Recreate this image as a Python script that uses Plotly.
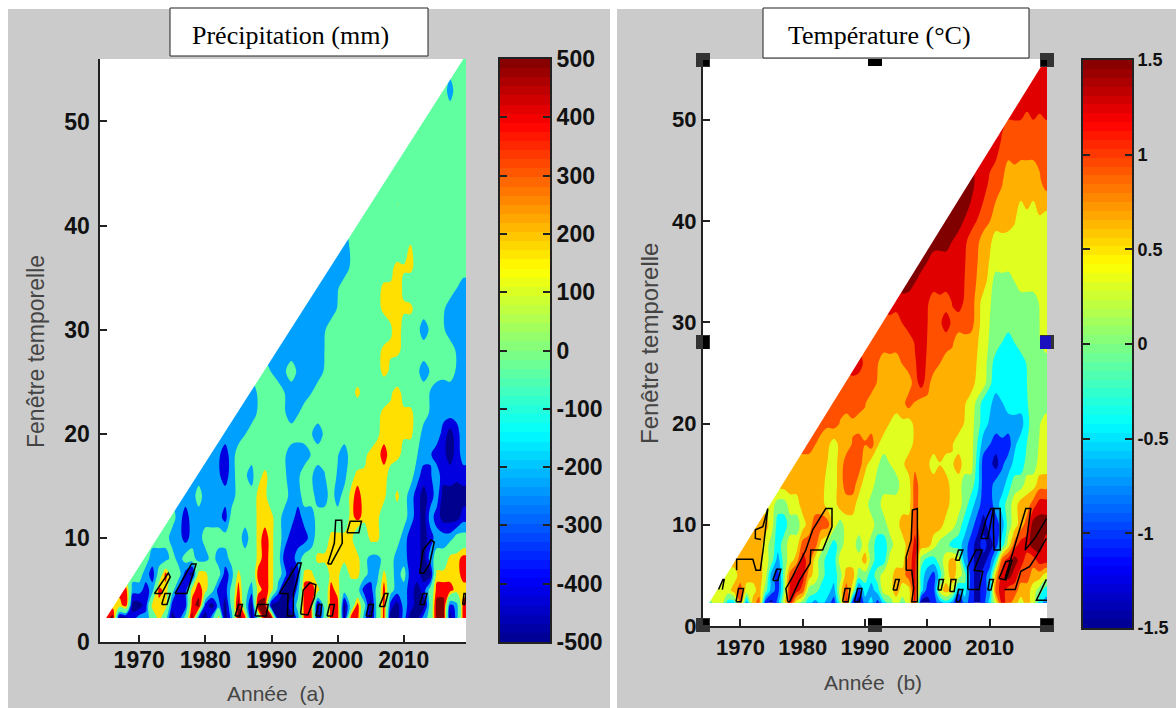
import numpy as np
import plotly.graph_objects as go

W, H = 1176, 708
YEARS = list(range(1965, 2020))
GRID_END = 2019.4

# ---- Precipitation (mm): windows and value rows. Rows end at 2019.
P_WINDOWS = [2.3, 3.5, 5, 6.5, 8, 10, 12, 14, 16, 18, 20, 22, 24, 26, 28, 30, 32, 34, 36, 38, 42, 46, 50, 53, 56]
P_FINE_ROWS = 8  # rows per year; later rows hold one value per two years (odd years)
P_02 = [310,440,-440,-440,-310, -190,-190,-60,190,-60, -440,-310,-60,440,-310, -440,-190,190,-440,-190,
        440,310,-440,-60,440, 440,-440,-440,-440,-190, 310,310,-440,-60,310, 310,-440,310,310,-190,
        -440,-60,310,-440,-440, -190,-440,-440,-190,-60, 440,440,-440,-190,310]
P_03 = [190,310,-440, -440,-310,190,190,190, -310,-310,-310,310,440, -310,-440,-190,-440,-60,
        440,-60,-440,440,440, -440,-440,-440,-310,-60, 310,310,-440,-60,310, 310,-440,-60,310,-60,
        -440,-60,310,-310,-440, -190,-310,-440,-440,-60, 440,440,-310,-190,310]
P_05 = [310,-190, -190,-310,-190,310,190, -60,-310,-310,190,310, 190,-60,-310,-310,-60,
        310,-60,-190,190,310, 190,-190,-440,-440,-190, 310,310,190,-60,310, 190,-60,-60,-60,-310,
        -310,-60,310,-60,-190, -190,-310,-440,-310,-60, 310,310,310,190,190]
P_06 = [-60,-190,-310,-60,310, -60,-60,-310,-440,190, 190,-60,-60,-310,-190,
        190,-60,-60,310,310, 190,-60,-190,-440,-310, 190,190,-60,-60,190, 190,-60,190,190,-60,
        -190,-190,190,-60,-190, -60,-310,-310,-440,-440, 190,190,190,190,310]
P_08 = [-60,-190,-190,-190, -60,-190,-60,-60,-190, -190,-60,-190,-190,-60,
        -60,-60,-60,190,310, 190,-60,-310,-310,-190, -60,-60,190,190,190, 190,190,190,190,-60,
        -190,-190,-60,-60,-190, -190,-310,-310,-440,-190, -60,-60,190,190,310]
P_10 = [-60,-60, -190,-190,-310,-190,-190, -60,-60,-60,-60,-60,
        -60,-190,-60,190,310, 190,-60,-190,-310,-310, -310,-190,-60,-60,190, 190,190,190,-60,-60,
        190,190,-60,-60,-60, -190,-310,-310,-440,-310, -190,-190,-190,-60,-60]
P_12 = [-60,-190,-310,-190,-190, -190,-190,-190,-310,-60,
        -60,-60,-60,190,190, 190,-60,-190,-190,-310, -190,-190,-60,-60,-60, -60,-60,190,310,190,
        190,190,-60,-60,-60, -60,-190,-310,-440,-190, -310,-440,-440,-440,-310]
P_14 = [-190,-190,-60, -190,-190,-190,-190,-190,
        -60,-60,-60,190,190, -60,-60,-60,-190,-190, -60,-60,-190,-190,-60, -190,-60,190,310,190,
        190,190,190,-60,190, -60,-190,-310,-440,-310, -190,-440,-440,-440,-440]
P_16 = [-190,-310,-60,-190,190,-60,-190,-60,-190,-60,-190,190,190,190,-60,-60,-310,-190,-310,-310]
P_18 = [-190,-310,-60,-60,-60,-60,-190,-190,-60,-60,-190,-60,190,310,190,-60,-190,-310,-440,-190]
P_20 = [-190,-190,-60,-60,-60,-60,-60,-190,-60,-60,-60,-60,190,190,190,-190,-190,-440,-190]
P_22 = [-190,-190,-60,-60,-190,-60,-60,-60,-60,-60,-60,190,190,190,-60,-190,-190,-190]
P_24 = [-190,-60,-60,-190,-190,-60,-60,-60,190,-60,-60,190,-60,-60,-190,-190,-190]
P_26 = [-60,-190,-60,-190,-190,-60,-60,-60,-60,190,-60,-60,-190,-60,-60,-190]
P_28 = [-190,-190,-190,-190,-60,-60,-60,-60,190,190,-60,-60,-60,-60,-190]
P_30 = [-190,-190,-190,-60,-60,-60,-60,-60,190,-60,-190,-60,-190,-190]
P_32 = [-190,-190,-190,-60,-60,-60,190,190,190,-60,-60,-190,-190]
P_34 = [-190,-190,-60,-60,-60,190,190,-60,-60,-60,-60,-190]
P_36 = [-190,-190,-60,-60,-60,190,190,-60,-60,-60,-60]
P_38 = [-190,-60,-60,-60,-60,140,-60,-60,-60,-60]
P_42 = [-60,-60,130,-60,-60,-60,-60,-60]
P_46 = [-60,-60,-60,-60,-60,-60]
P_50 = [-60,-60,-60,-60]
P_53 = [-60,-160,-60]
P_56 = [-60]
P_ROWS = [P_02,P_03,P_05,P_06,P_08,P_10,P_12,P_14,P_16,P_18,P_20,P_22,P_24,P_26,P_28,P_30,P_32,P_34,P_36,P_38,P_42,P_46,P_50,P_53,P_56]

# significance outlines (year, window) of panel (a)
P_OUTLINE_X = [[1972.3,1974.4,1974.7,1973.4,1972.3],[1973.4,1973.9,1974.7,1974.2,1973.4],[1975.4,1977.9,1978.6,1977.2,1975.4],
    [1984.5,1985,1985.6,1985.2,1984.5],[1987.5,1987.9,1989.5,1989.2,1987.5],[1991.2,1994,1994.5,1993.3,1993.3,1992.4,1992.5,1991.2],
    [1994.4,1994.8,1995.8,1996.7,1996.5,1995.5,1994.4],[1996.7,1997.1,1997.6,1997.4,1996.7],[1998.4,1998.8,1999.5,1999.2,1998.4],
    [2004.3,2004.7,2005.4,2005.1,2004.3],[2006.3,2007.1,2007.6,2007.1,2006.3],[2012.4,2012.9,2013.5,2013.1,2012.4],
    [2012.4,2012.9,2014.1,2014.6,2013.9,2013,2012.4],[1998.5,1999.5,1999.7,2000.6,2000.7,1999,1998.5],[2001.4,2001.9,2003.6,2003.2,2001.4],
    [2018.9,2019.1,2019.4,2019.2,2018.9]]
P_OUTLINE_Y = [[4.65,6.63,6.25,4.65,4.65],[3.6,4.65,4.65,3.6,3.6],[4.65,7.5,7.5,4.65,4.65],
    [2.5,3.6,3.6,2.5,2.5],[2.5,3.6,3.6,2.5,2.5],[4.65,7.6,7.6,4.65,2.5,2.5,4.65,4.65],
    [2.7,5,5.7,5.5,4.3,2.6,2.7],[2.5,3.6,3.6,2.5,2.5],[2.5,3.6,3.6,2.5,2.5],
    [2.5,3.6,3.6,2.5,2.5],[3.4,4.65,4.65,3.4,3.4],[3.6,4.65,4.65,3.6,3.6],
    [6.6,8.8,9.8,9.6,7.5,6.6,6.6],[7.5,9.5,11.7,11.7,9.5,7.5,7.5],[10.5,11.6,11.6,10.5,10.5],
    [3.6,4.65,4.65,3.6,3.6]]

# ---- Temperature (deg C): panel (b)
T_WINDOWS = [2.3, 3.5, 5, 6.5, 8, 10, 12, 14, 16, 18, 20, 22, 24, 26, 28, 30, 32, 34, 36, 38, 40, 44, 48, 52, 56]
T_FINE_ROWS = 8
T_02 = [-.15,.15,.15,-.45,-.45, .75,-.75,.45,.75,-1.05, -1.35,-.75,.15,1.05,.15, -.15,-.45,-.75,-.45,-.75,
        -1.05,-.15,1.05,-1.05,-1.35, -.75,-.45,-1.05,-.45,-.15, .15,-.15,.15,1.05,-1.35, -1.35,-1.05,-.75,-.45,-.75,
        -1.35,-.75,-1.05,-1.35,-1.05, -.45,.15,1.05,.75,.45, .15,.45,.15,-.45,-.75]
T_03 = [.15,.15,.45, .75,.15,.15,.45,-.15, -.75,-1.05,-.15,1.05,1.05, .75,-.15,-.15,-.45,-.45,
        -.75,.15,.75,.15,-1.05, -.45,-.75,-.45,.15,.15, .45,.15,.15,1.05,-.45, -1.05,-1.05,.15,.45,.15,
        -.75,-.45,-1.05,-1.35,-1.05, -.75,.75,1.05,.75,.75, .45,.45,.15,-.15,-.45]
T_05 = [.15,.15, .45,.45,.45,.45,.15, -.75,-1.05,-.15,.75,1.05, 1.05,.45,.15,-.15,-.45,
        -.45,-.15,.45,.45,-.15, -.15,-.45,-.15,.15,.15, .45,.45,.75,1.05,-.45, -.75,-1.05,-.45,.15,.45,
        .15,-.15,-1.05,-1.35,-1.05, -.75,.45,1.05,1.35,1.05, .75,.75,.45,.45,.15]
T_06 = [.45,.45,.45,.45,.15, -.15,-.75,-.15,.15,.45, 1.05,.75,.15,-.15,-.45,
        -.45,.15,.15,.15,.15, .45,-.15,-.45,-.45,.15, .15,.15,.75,1.05,-.15, -.45,-.45,-.15,.15,.45,
        .15,-.75,-1.05,-1.35,-1.35, -1.05,-.45,.75,1.05,1.35, 1.05,.75,.75,1.05,1.05]
T_08 = [.45,.45,.15, -.15,-.45,-.15,.15,.15, .75,.75,.75,.15,-.15,
        -.45,-.15,.15,.15,-.15, .15,-.15,-.45,-.45,-.15, .15,.15,.45,1.05,.45, .45,.15,-.15,-.15,-.45,
        -.45,-.75,-1.05,-1.35,-1.05, -1.35,-1.05,-.45,.15,.75, 1.05,1.05,1.35,1.35,1.05]
T_10 = [.45,.45, .15,-.45,-.45,-.15,-.15, .15,.45,.75,.75,.75,
        .15,-.15,.15,.15,.15, .15,.15,-.15,-.15,.15, .15,.45,.45,.75,.45, .45,.45,.45,.15,.15,
        -.15,-.45,-.75,-1.05,-1.35, -1.05,-1.05,-.75,-.15,.15, .45,.75,1.35,1.35,1.35]
T_12 = [.15,-.15,-.15,.15,.15, .45,.45,.45,.45,.15,
        .15,.45,.45,.45,.15, .15,-.15,-.15,.15,.15, .15,.15,.15,.75,.45, .45,.45,.45,.45,.15,
        .15,-.15,-.45,-.75,-1.05, -1.05,-.75,-.45,-.15,.15, .45,.45,.75,1.05,1.05]
T_14 = [.45,.45,.45, .45,.45,.45,.15,.15,
        .45,.75,.75,.45,.15, .15,-.15,-.15,-.15,-.15, .15,.15,.75,.45,.45, .45,.45,.45,.15,.15,
        -.15,-.15,-.45,-1.05,-1.05, -.75,-.75,-.45,-.15,-.15, .15,.15,.45,.45]
T_16 = [.45,.45,.15,.75,.75,.15,-.15,.15,.45,.45,.15,.15,.45,.15,-1.05,-1.35,-.75,-.45,-.15,.15]
T_18 = [.75,.45,.15,.45,.75,.75,.15,.15,.15,.45,.45,.45,.15,.15,-.75,-1.05,-1.05,-.45,-.15,.15]
T_20 = [.75,.75,.45,.45,.45,.45,.15,.15,.45,.45,.45,.45,.15,-.45,-.75,-.75,-.75,-.15,.15]
T_22 = [.75,.75,.75,.45,.45,.45,.75,.45,.45,.45,.45,.15,-.45,-.75,-.45,-.45,-.15,-.15]
T_24 = [.75,.75,.75,.45,.45,.45,1.05,.45,.45,.45,.45,.15,-.45,-.45,-.45,-.15,-.15]
T_26 = [1.05,.75,.45,.45,.75,1.05,.75,.45,.45,.45,.15,-.45,-.45,-.45,-.15,-.15]
T_28 = [.75,.75,.75,.75,1.05,.75,.75,.45,.45,.15,-.15,-.45,-.15,-.15,.15]
T_30 = [.75,.75,1.05,1.05,.75,1.05,.75,.75,.15,-.15,-.15,-.15,-.15,.15]
T_32 = [1.05,1.05,1.05,.75,.75,1.05,.75,.15,-.15,-.15,-.15,-.15,.15]
T_34 = [1.35,1.05,1.05,1.05,1.05,.75,.45,-.15,-.15,.15,.15,.15]
T_36 = [1.35,1.05,1.05,1.05,.75,.45,.15,.15,.15,.15,.15]
T_38 = [1.35,1.35,1.05,.75,.45,.15,.15,.15,.15,.15]
T_40 = [1.35,1.35,1.05,.75,.45,.45,.15,.15,.15]
T_44 = [1.35,1.05,.75,.45,.45,.45,.75]
T_48 = [1.05,.75,.75,.75,.75]
T_52 = [1.05,1.05,1.05]
T_56 = [1.05]
T_ROWS = [T_02,T_03,T_05,T_06,T_08,T_10,T_12,T_14,T_16,T_18,T_20,T_22,T_24,T_26,T_28,T_30,T_32,T_34,T_36,T_38,T_40,T_44,T_48,T_52,T_56]

T_OUTLINE_X = [[1966.5,1967.2,1967.4,1967.1],[1969.3,1969.7,1970.5,1970.1,1969.3],
    [1969.4,1969.4,1972,1972.5,1973.2,1973.7,1974.4,1973.6,1972.4,1972.4,1973.3],[1975.2,1975.8,1976.5,1976,1975.2],
    [1977.6,1977.3,1978.4,1980.5,1981.6,1983.7,1984.7,1984.7,1983.2,1981.3,1981.2,1979.5,1977.9,1977.6],
    [1986.4,1986.8,1987.6,1987.3,1986.4],[1988.3,1988.8,1989.5,1989.1,1988.3],[1994.5,1994.9,1995.5,1995.1,1994.5],
    [1996.6,1996.6,1997.4,1997.6,1998.4,1998.4,1997.5,1997.8,1997.5,1996.6],[2001.7,2001.9,2002.6,2002.2,2001.7],
    [2003.6,2003.8,2004.6,2004.3,2003.6],[2004.6,2005,2005.7,2005.2,2004.6],[2004.5,2005,2005.7,2005.1,2004.5],
    [2006.5,2006.5,2007.8,2008.8,2007.5,2008.9,2008.3,2006.5],[2009.7,2010,2010.6,2010.2,2009.7],
    [2008.6,2009.4,2010.2,2010.6,2009.7,2008.6],[2010.7,2010.6,2010.7,2011.7,2011.7,2010.7],[2011.5,2012.6,2013.6,2012.6,2011.5],
    [2012.4,2014.1,2015,2016.4,2017.4,2019.1],[2012.4,2014,2014.8,2015.8,2016.6,2015.7,2017.4,2019.1],
    [2019.1,2017.5,2019.2]]
T_OUTLINE_Y = [[3.6,4.6,4.6,3.6],[2.4,3.7,3.7,2.4,2.4],
    [5.5,6.6,6.6,5.5,5.5,7.8,11.6,9.8,9.5,8.65,8.55],[4.5,5.6,5.6,4.5,4.5],
    [2.4,3.7,4.9,7.5,9.5,11.6,11.6,9.8,7.5,7.5,6.2,4.5,2.4,2.4],
    [2.4,3.7,3.7,2.4,2.4],[2.4,3.7,3.7,2.4,2.4],[3.55,4.6,4.6,3.55,3.55],
    [5.5,6.8,8.5,11.45,11.6,2.4,2.4,3.7,5.5,5.5],[3.55,4.6,4.6,3.55,3.55],
    [3.4,4.6,4.6,3.4,3.4],[2.4,3.6,3.6,2.4,2.4],[6.5,7.5,7.5,6.5,6.5],
    [3.6,5.85,7.5,7.5,5.5,5.4,3.6,3.6],[3.55,4.6,4.6,3.55,3.55],
    [8.65,10.5,11.6,11.6,8.65,8.65],[7.5,9.8,11.6,11.6,7.5,7.5],[4.7,6.35,6.5,4.55,4.7],
    [3.6,3.6,5.4,5.85,6.8,8.65],[4.55,7.8,9.5,11.6,11.6,7.5,8.8,10.6],
    [4.6,2.55,2.55]]

# ---- Scales
JET = [[0,"#00008f"],[0.11,"#0000ff"],[0.36,"#00ffff"],[0.5,"#80ff80"],[0.64,"#ffff00"],[0.89,"#ff0000"],[1,"#800000"]]
P_TICKS = [-500,-400,-300,-200,-100,0,100,200,300,400,500]
P_TICK_TEXT = ["-500","-400","-300","-200","-100","0","100","200","300","400","500"]
T_TICKS = [-1.5,-1,-0.5,0,0.5,1,1.5]
T_TICK_TEXT = ["-1.5","-1","-0.5","0","0.5","1","1.5"]
P_BANDS = ["#00008f","#0000e0","#00a0ff","#60ffa0","#60ffa0","#ffe000","#ff0000","#800000"]
T_BANDS = ["#0000a0","#0020ff","#00a0ff","#00ffff","#80ff80","#e0ff20","#ffb000","#ff5000","#e00000","#800000"]
X_TICKS = [1970,1980,1990,2000,2010]
Y_TICKS = [0,10,20,30,40,50]


def step_scale(colors):
    n = len(colors)
    out = []
    for i, c in enumerate(colors):
        out += [[i / n, c], [(i + 1) / n, c]]
    return out


def build_grid(rows, fine):
    grid = []
    for i, r in enumerate(rows):
        if i < fine:
            vals = list(r)
        else:
            vals = []
            for v in r:
                vals += [None, v]
            vals = vals[1:]
        vals = vals[-len(YEARS):]
        vals = [vals[0]] * (len(YEARS) - len(vals)) + vals
        grid.append(vals + [vals[-1]])
    return grid


def fx(px):
    return px / W


def fy(py):
    return 1 - py / H


fig = go.Figure()
AX = "Liberation Sans"


def panel(idx, rows, fine, windows, vmin, vmax, bands, ox, oy, dom, cbdom, ticks, text, xr, fs, cbfs, xstand, ystand):
    xa, ya = f"x{idx*2-1}", f"y{idx*2-1}"
    xb, yb = f"x{idx*2}", f"y{idx*2}"
    grid = build_grid(rows, fine)
    size = (vmax - vmin) / len(bands)
    fig.add_trace(go.Contour(x=YEARS + [GRID_END], y=windows, z=grid, zmin=vmin, zmax=vmax,
                             colorscale=step_scale(bands), showscale=False, connectgaps=True,
                             contours=dict(coloring="fill", start=vmin + size, end=vmax - size, size=size, showlines=False),
                             line=dict(width=0, smoothing=1.0), hoverinfo="skip", xaxis=xa, yaxis=ya))
    fig.add_trace(go.Scatter(x=[YEARS[0] - 1, YEARS[0] - 1, YEARS[-1], YEARS[0], YEARS[0] - 1],
                             y=[windows[0], windows[-1], windows[-1], windows[0], windows[0]],
                             mode="lines", fill="toself", fillcolor="white", line=dict(width=0, color="white"),
                             hoverinfo="skip", showlegend=False, xaxis=xa, yaxis=ya))
    for xs, ys in zip(ox, oy):
        fig.add_trace(go.Scatter(x=xs, y=ys, mode="lines", line=dict(color="black", width=1.5),
                                 hoverinfo="skip", showlegend=False, xaxis=xa, yaxis=ya))
    levels = np.linspace(vmin, vmax, 65)
    mids = (levels[:-1] + levels[1:]) / 2
    fig.add_trace(go.Heatmap(z=[[float(m)] for m in mids], y=mids.tolist(), x=[0], zmin=vmin, zmax=vmax,
                             colorscale=JET, showscale=False, hoverinfo="skip", xaxis=xb, yaxis=yb))
    tick = dict(family=AX, size=fs, color="#111111", weight=700)
    common = dict(showgrid=False, zeroline=False, showline=True, linecolor="#222222", linewidth=2,
                  ticks="inside", ticklen=7, tickcolor="#222222", tickwidth=1.5, tickfont=tick)
    cb = dict(common, tickfont=dict(tick, size=cbfs))
    fig.update_layout({
        f"xaxis{idx*2-1}": dict(domain=[fx(dom[0]), fx(dom[1])], anchor=ya, range=xr, tickvals=X_TICKS,
                                ticktext=[str(v) for v in X_TICKS], ticklabelstandoff=xstand, **common),
        f"yaxis{idx*2-1}": dict(domain=[fy(dom[3]), fy(dom[2])], anchor=xa, range=[0, 56], tickvals=Y_TICKS,
                                ticktext=[str(v) for v in Y_TICKS], ticklabelstandoff=ystand, **common),
        f"xaxis{idx*2}": dict(domain=[fx(cbdom[0]), fx(cbdom[1])], anchor=yb, range=[-0.5, 0.5], showticklabels=False,
                              ticks="", showgrid=False, zeroline=False, showline=True, mirror=True,
                              linecolor="#222222", linewidth=2),
        f"yaxis{idx*2}": dict(domain=[fy(cbdom[3]), fy(cbdom[2])], anchor=xb, range=[vmin, vmax], side="right",
                              tickvals=ticks, ticktext=text, mirror="allticks", ticklabelstandoff=0, **cb),
    })


P_DOM = (99.5, 466, 59, 642)
T_DOM = (703, 1047, 59, 626)
panel(1, P_ROWS, P_FINE_ROWS, P_WINDOWS, -500, 500, P_BANDS, P_OUTLINE_X, P_OUTLINE_Y,
      P_DOM, (500, 550, 59, 642), P_TICKS, P_TICK_TEXT, [1964, 2019.4], 23, 23, -4, 3)
panel(2, T_ROWS, T_FINE_ROWS, T_WINDOWS, -1.5, 1.5, T_BANDS, T_OUTLINE_X, T_OUTLINE_Y,
      T_DOM, (1083, 1132, 60, 628), T_TICKS, T_TICK_TEXT, [1964, 2019.2], 22, 18, 1, 0)


def rect(x0, y0, x1, y1, fill, line=None, layer="above"):
    return dict(type="rect", xref="paper", yref="paper", x0=fx(x0), x1=fx(x1), y0=fy(y1), y1=fy(y0),
                fillcolor=fill, line=dict(color=line or fill, width=1 if line else 0), layer=layer)


shapes = [rect(8, 9, 610, 708, "#cbcbcb", layer="below"), rect(617, 9, 1176, 708, "#cbcbcb", layer="below"),
          rect(P_DOM[0], P_DOM[2], P_DOM[1], P_DOM[3], "white", layer="below"),
          rect(T_DOM[0], T_DOM[2], T_DOM[1], T_DOM[3], "white", layer="below"),
          rect(170, 8, 428, 56, "white", "#222222"), rect(763, 8, 1029, 58, "white", "#222222")]
# selection handles around panel (b)
for cx, cy in [(703, 60), (1047, 60), (703, 342), (1047, 342), (703, 625), (875, 625), (1047, 625)]:
    shapes.append(rect(cx - 7, cy - 7, cx + 7, cy + 7, "#333333"))
for x0, y0, x1, y1, c in [(703, 60, 709, 66, "black"), (1041, 60, 1047, 66, "black"), (703, 336, 709, 349, "black"),
                          (1040, 336, 1051, 349, "#1a10c0"), (703, 619, 709, 625, "black"), (868, 619, 882, 625, "black"),
                          (1041, 619, 1053, 625, "black"), (868, 59, 882, 66, "black")]:
    shapes.append(rect(x0, y0, x1, y1, c))


def note(text, x, y, size, color, family, angle=0):
    return dict(text=text, x=fx(x), y=fy(y), xref="paper", yref="paper", showarrow=False, xanchor="center",
                yanchor="middle", textangle=angle, font=dict(family=family, size=size, color=color))


annotations = [
    note("Précipitation (mm)", 290, 35, 26, "black", "Liberation Serif"),
    note("Température (°C)", 879, 35, 26, "black", "Liberation Serif"),
    note("Année  (a)", 276, 693, 21, "#444444", AX),
    note("Année  (b)", 873, 682, 21, "#444444", AX),
    note("Fenêtre temporelle", 36, 352, 23, "#444444", AX, -90),
    note("Fenêtre temporelle", 649, 344, 24, "#444444", AX, -90),
]

fig.update_layout(width=W, height=H, autosize=False,
                  margin=dict(l=0, r=0, t=0, b=0, autoexpand=False), paper_bgcolor="white",
                  plot_bgcolor="white", showlegend=False, shapes=shapes, annotations=annotations)
fig.write_html("out.html", config={"displayModeBar": False},
               post_script="document.body.style.margin='0';document.body.style.overflow='hidden';")
